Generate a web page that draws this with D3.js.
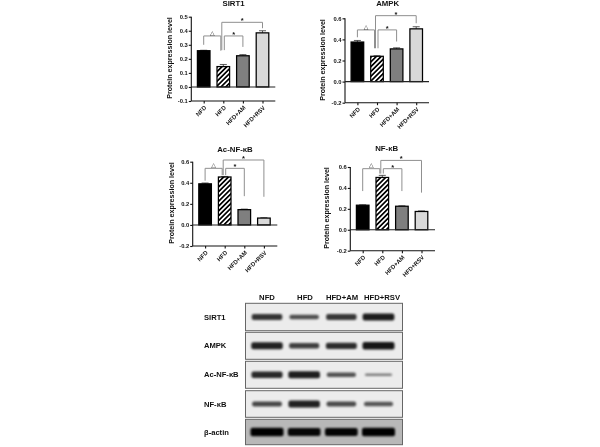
<!DOCTYPE html>
<html><head><meta charset="utf-8">
<script src="https://cdn.jsdelivr.net/npm/d3@7"></script>
<style>html,body{margin:0;padding:0;background:#fff}svg{display:block;filter:blur(.35px)}
text{font-family:"Liberation Sans",Arial,sans-serif;font-weight:bold;fill:#111}</style>
</head><body><div id="c"></div>
<script>
const categories = ["NFD","HFD","HFD+AM","HFD+RSV"];
const sirt1Values = [0.258,0.145,0.222,0.385];
const sirt1Errors = [0.003,0.015,0.008,0.015];
const ampkValues = [0.375,0.24,0.31,0.5];
const ampkErrors = [0.015,0.005,0.01,0.02];
const acNfkbValues = [0.39,0.455,0.145,0.065];
const acNfkbErrors = [0.008,0.005,0.005,0.003];
const nfkbValues = [0.235,0.5,0.225,0.175];
const nfkbErrors = [0.003,0.02,0.004,0.005];
const sirt1Ticks = [-0.1,0,0.1,0.2,0.3,0.4,0.5];
const wideTicks = [-0.2,0,0.2,0.4,0.6];
// brackets: from, to, top value, left leg end value, right leg end value, mark
const sirt1Brackets = [[0,1,0.363,0.30,0.258,"△"],[1,2,0.363,0.262,0.285,"*"],[1,3,0.46,0.262,0.418,"*"]];
const ampkBrackets = [[0,1,0.49,0.42,0.316,"△"],[1,2,0.49,0.316,0.38,"*"],[1,3,0.625,0.316,0.553,"*"]];
const acNfkbBrackets = [[0,1,0.537,0.42,0.473,"△"],[1,2,0.537,0.473,0.273,"*"],[1,3,0.616,0.473,0.267,"*"]];
const nfkbBrackets = [[0,1,0.584,0.37,0.537,"△"],[1,2,0.584,0.537,0.37,"*"],[1,3,0.663,0.537,0.355,"*"]];
const blotRows = ["SIRT1","AMPK","Ac-NF-κB","NF-κB","β-actin"];
const blotDensity = [
  [0.72,0.58,0.70,0.85],
  [0.82,0.66,0.76,0.88],
  [0.78,0.84,0.56,0.34],
  [0.62,0.82,0.60,0.54],
  [1.0,0.96,0.97,1.0]
];

const barFills = ["#000","url(#hatch)","#7f7f7f","#d9d9d9"];
const panels = [
 {title:"SIRT1",v:sirt1Values,e:sirt1Errors,t:sirt1Ticks,b:sirt1Brackets,dom:[-0.1,0.5],x:191.3,yTop:16.7,yBot:101,w:84,tx:233.5,ty:5.5,lx:170,ly:58},
 {title:"AMPK",v:ampkValues,e:ampkErrors,t:wideTicks,b:ampkBrackets,dom:[-0.2,0.6],x:345,yTop:18.3,yBot:102.7,w:84,tx:387.7,ty:5.5,lx:323,ly:60},
 {title:"Ac-NF-κB",v:acNfkbValues,e:acNfkbErrors,t:wideTicks,b:acNfkbBrackets,dom:[-0.2,0.6],x:192.7,yTop:161.7,yBot:246,w:84.6,tx:235,ty:151.5,lx:172,ly:203},
 {title:"NF-κB",v:nfkbValues,e:nfkbErrors,t:wideTicks,b:nfkbBrackets,dom:[-0.2,0.6],x:350.3,yTop:167,yBot:250.7,w:84.7,tx:386.7,ty:150.5,lx:327,ly:208}
];

const svg = d3.select("#c").append("svg").attr("width",600).attr("height",447);
const defs = svg.append("defs");
const pat = defs.append("pattern").attr("id","hatch").attr("patternUnits","userSpaceOnUse")
  .attr("width",3.4).attr("height",3.4).attr("patternTransform","rotate(45)");
pat.append("rect").attr("width",3.4).attr("height",3.4).attr("fill","#fff");
pat.append("rect").attr("width",1.7).attr("height",3.4).attr("fill","#000");
defs.append("filter").attr("id","bandBlur").attr("x","-30%").attr("y","-100%").attr("width","160%").attr("height","300%")
  .append("feGaussianBlur").attr("stdDeviation","1.1 0.8");

const tickFmt = d => d.toFixed(1);
panels.forEach(p=>{
  const g = svg.append("g").attr("transform",`translate(${p.x},0)`);
  const y = d3.scaleLinear().domain(p.dom).range([p.yBot,p.yTop]);
  const x = d3.scalePoint().domain(categories).range([12.4,71.2]);
  const barW = 12.6;
  const yAxis = g.append("g").call(d3.axisLeft(y).tickValues(p.t).tickSize(2.5).tickFormat(tickFmt));
  const xAxis = g.append("g").attr("transform",`translate(0,${p.yBot})`).call(d3.axisBottom(x).tickSize(2.5));
  yAxis.select(".domain").attr("d",`M0,${p.yTop}V${p.yBot}`);
  xAxis.select(".domain").attr("d",`M0,0H${p.w}`);
  [yAxis,xAxis].forEach(a=>{a.selectAll("path,line").attr("stroke","#111").attr("stroke-width",1.1);});
  yAxis.selectAll("text").attr("x",-3.5).style("font-size","5.8px").attr("fill","#111").attr("font-family",null);
  xAxis.selectAll("text").attr("text-anchor","end").attr("dx",0).attr("dy",0).attr("y",0)
    .attr("transform","translate(1.5,6) rotate(-45)").attr("dominant-baseline","middle")
    .style("font-size","5.9px");
  g.selectAll(".err").data(p.v).join("g").each(function(d,i){
    const s=d3.select(this), cx=x(categories[i]), top=y(d+p.e[i]);
    s.append("line").attr("x1",cx).attr("x2",cx).attr("y1",y(d)).attr("y2",top).attr("stroke","#333").attr("stroke-width",.8);
    s.append("line").attr("x1",cx-3.5).attr("x2",cx+3.5).attr("y1",top).attr("y2",top).attr("stroke","#333").attr("stroke-width",.8);
  });
  g.selectAll(".bar").data(p.v).join("rect")
    .attr("x",(d,i)=>x(categories[i])-barW/2).attr("width",barW)
    .attr("y",d=>y(d)).attr("height",d=>y(0)-y(d))
    .attr("fill",(d,i)=>barFills[i]).attr("stroke","#000").attr("stroke-width",1.25);
  g.append("line").attr("x1",0).attr("x2",p.w).attr("y1",y(0)).attr("y2",y(0)).attr("stroke","#222").attr("stroke-width",1.1);
  p.b.forEach(([a,b,top,le,re,mark],k)=>{
    const off = k===0 ? [0,-2.5] : k===1 ? [1,0] : [-1.5,0];
    const x1=x(categories[a])+off[0], x2=x(categories[b])+off[1];
    g.append("path").attr("fill","none").attr("stroke","#8f8f8f").attr("stroke-width",1)
      .attr("d",d3.line()([[x1,y(le)],[x1,y(top)],[x2,y(top)],[x2,y(re)]]));
    g.append("text").attr("x",(x1+x2)/2).attr("y",y(top)+(mark==="*"?1:-1.2)).attr("text-anchor","middle")
      .style("font-size",mark==="*"?"7.5px":"6px").style("font-family",mark==="*"?null:"DejaVu Sans").style("font-weight",mark==="*"?null:"normal").text(mark);
  });
  svg.append("text").attr("x",p.tx).attr("y",p.ty).attr("text-anchor","middle").style("font-size","7.8px").text(p.title);
  svg.append("text").attr("transform",`translate(${p.lx+2.3},${p.ly}) rotate(-90)`).attr("text-anchor","middle")
    .style("font-size","7.1px").text("Protein expression level");
});

// blot
const blotY = [[303.3,330.7],[332.3,359.3],[361.3,388.3],[390.7,417.3],[419.3,444.7]];
const lane = d3.scalePoint().domain(categories).range([267,378.5]);
const bw = d3.scaleLinear().domain([0.3,1]).range([27,33]);
const bh = d3.scaleLinear().domain([0.3,1]).range([2.2,8.5]);
const bop = d3.scaleLinear().domain([0.3,1]).range([0.45,1]);
const headerX = [267,305,342,382];
categories.forEach((c,i)=>svg.append("text").attr("x",headerX[i]).attr("y",300).attr("text-anchor","middle").style("font-size","7.7px").text(c));
blotRows.forEach((r,i)=>{
  const [t,b]=blotY[i], mid=(t+b)/2;
  svg.append("rect").attr("x",245.5).attr("y",t).attr("width",157).attr("height",b-t)
    .attr("fill",i===4?"#b8b8b8":"#ececec").attr("stroke","#666").attr("stroke-width",1);
  svg.append("text").attr("x",204).attr("y",mid+2.5).style("font-size","7.6px").text(r);
  svg.append("g").attr("filter","url(#bandBlur)").selectAll("rect").data(blotDensity[i]).join("rect")
    .attr("x",(d,j)=>lane(categories[j])-bw(d)/2).attr("width",d=>bw(d))
    .attr("y",d=>mid-bh(d)/2).attr("height",d=>bh(d)).attr("rx",2)
    .attr("fill","#000").attr("opacity",d=>bop(d));
});
</script></body></html>
